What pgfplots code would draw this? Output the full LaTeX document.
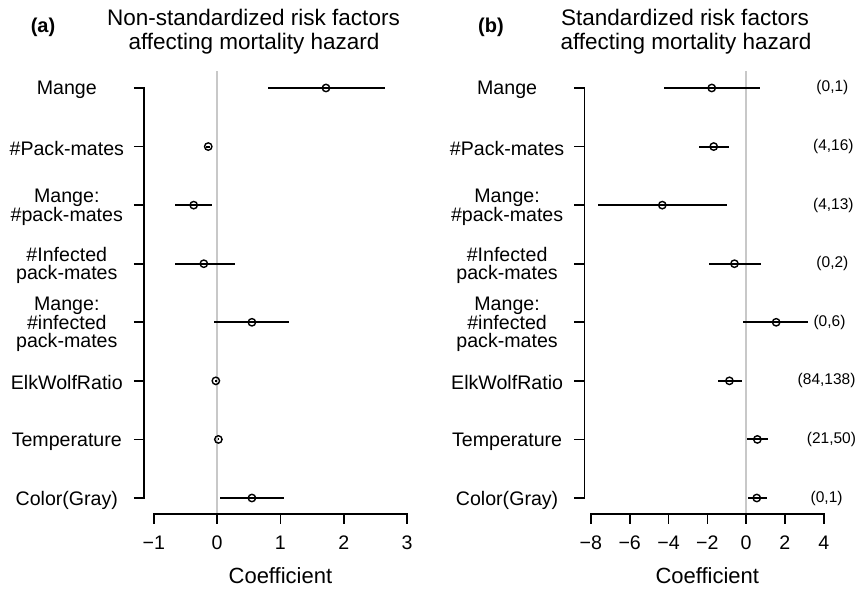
\documentclass[border=0pt]{standalone}
\usepackage{pgfplots}
\pgfplotsset{compat=1.18}
\usepackage{pgfplotstable}
\usepackage{fontspec}
\setmainfont{Liberation Sans}
\definecolor{zeroline}{RGB}{200,200,200}

% y: 8 = Mange ... 1 = Color(Gray)
\pgfplotstableread{
y x lo hi
8 1.72 0.80 2.66
7 -0.14 -0.17 -0.11
6 -0.37 -0.67 -0.08
5 -0.21 -0.67 0.28
4 0.55 -0.05 1.14
3 -0.02 -0.03 -0.01
2 0.02 0.01 0.03
1 0.55 0.05 1.05
}\dataA

\pgfplotstableread{
y x lo hi
8 -1.77 -4.21 0.72
7 -1.67 -2.41 -0.89
6 -4.32 -7.65 -1.00
5 -0.60 -1.89 0.77
4 1.55 -0.14 3.21
3 -0.86 -1.46 -0.22
2 0.58 0.07 1.12
1 0.55 0.09 1.07
}\dataB

\pgfplotsset{
  forest/.style={
    scale only axis, height=443pt, anchor=south west,
    ymin=0.727, ymax=8.29,
    axis line style={draw=none},
    xtick pos=lower, ytick pos=left, tick align=outside,
    major tick length=10pt,
    tick style={line width=1.6pt, black},
    ytick={1,...,8},
    yticklabels={Color(Gray),Temperature,ElkWolfRatio,{Mange:\\\#infected\\pack-mates},{\#Infected\\pack-mates},{Mange:\\\#pack-mates},\#Pack-mates,Mange},
    yticklabel style={anchor=east, inner sep=0pt, yshift=-2pt, text width=134pt, align=center, font=\fontsize{19.6}{18}\selectfont},
    xticklabel style={anchor=north, inner sep=0pt, yshift=-12pt, font=\fontsize{19.6}{22}\selectfont},
    clip=false,
    xlabel={Coefficient},
    xlabel style={anchor=base, yshift=-69.3pt, inner sep=0pt, font=\fontsize{22}{24}\selectfont},
  },
  ci/.style={only marks, mark=o, mark size=3.7pt, line width=1.4pt, black,
    error bars/.cd, x dir=both, x explicit, error mark=none,
    error bar style={line width=2pt, black}},
}

\begin{document}
\begin{tikzpicture}[x=1pt,y=1pt]
\useasboundingbox (0,0) rectangle (857,589);

% ---------- panel (a)
\begin{axis}[forest, at={(144pt,75pt)}, width=263pt,
  xmin=-1.155, xmax=3,
  xtick={-1,0,1,2,3}, xticklabels={−1,0,1,2,3},
  xlabel style={at={(rel axis cs:0.5187,0)}}]
  \addplot[zeroline, line width=1.5pt, mark=none] coordinates {(0,0.727) (0,8.29)};
  \addplot[ci] table[x=x, y=y,
    x error plus expr=\thisrow{hi}-\thisrow{x},
    x error minus expr=\thisrow{x}-\thisrow{lo}] {\dataA};
  \draw[line width=1.6pt, line cap=rect] (axis cs:-1,0.727) -- (axis cs:3,0.727);
  \draw[line width=1.6pt, line cap=rect] (axis cs:-1.155,1) -- (axis cs:-1.155,8);
\end{axis}

% ---------- panel (b)
\begin{axis}[forest, at={(584.3pt,75pt)}, width=239.4pt,
  xmin=-8.34, xmax=4,
  xtick={-8,-6,-4,-2,0,2,4}, xticklabels={−8,−6,−4,−2,0,2,4},
  xlabel style={at={(rel axis cs:0.5138,0)}}]
  \addplot[zeroline, line width=1.5pt, mark=none] coordinates {(0,0.727) (0,8.29)};
  \addplot[ci] table[x=x, y=y,
    x error plus expr=\thisrow{hi}-\thisrow{x},
    x error minus expr=\thisrow{x}-\thisrow{lo}] {\dataB};
  \draw[line width=1.6pt, line cap=rect] (axis cs:-8,0.727) -- (axis cs:4,0.727);
  \draw[line width=1.6pt, line cap=rect] (axis cs:-8.34,1) -- (axis cs:-8.34,8);
  \begin{scope}[every node/.style={font=\fontsize{15.5}{17}\selectfont, anchor=center}]
    \node at (axis cs:4.45,8) {(0,1)};
    \node at (axis cs:4.5,7) {(4,16)};
    \node at (axis cs:4.5,6) {(4,13)};
    \node at (axis cs:4.45,5) {(0,2)};
    \node at (axis cs:4.3,4) {(0,6)};
    \node at (axis cs:4.15,3) {(84,138)};
    \node at (axis cs:4.4,2) {(21,50)};
    \node at (axis cs:4.15,1) {(0,1)};
  \end{scope}
\end{axis}

% ---------- titles
\node[anchor=base, font=\bfseries\fontsize{20}{22}\selectfont] at (43,556.5) {(a)};
\node[anchor=base, font=\fontsize{22.5}{24}\selectfont] at (253.5,563) {Non-standardized risk factors};
\node[anchor=base, font=\fontsize{22.5}{24}\selectfont] at (254,539) {affecting mortality hazard};
\node[anchor=base, font=\bfseries\fontsize{20}{22}\selectfont] at (491,556.5) {(b)};
\node[anchor=base, font=\fontsize{22.5}{24}\selectfont] at (685,563) {Standardized risk factors};
\node[anchor=base, font=\fontsize{22.5}{24}\selectfont] at (686,539) {affecting mortality hazard};
\end{tikzpicture}
\end{document}
